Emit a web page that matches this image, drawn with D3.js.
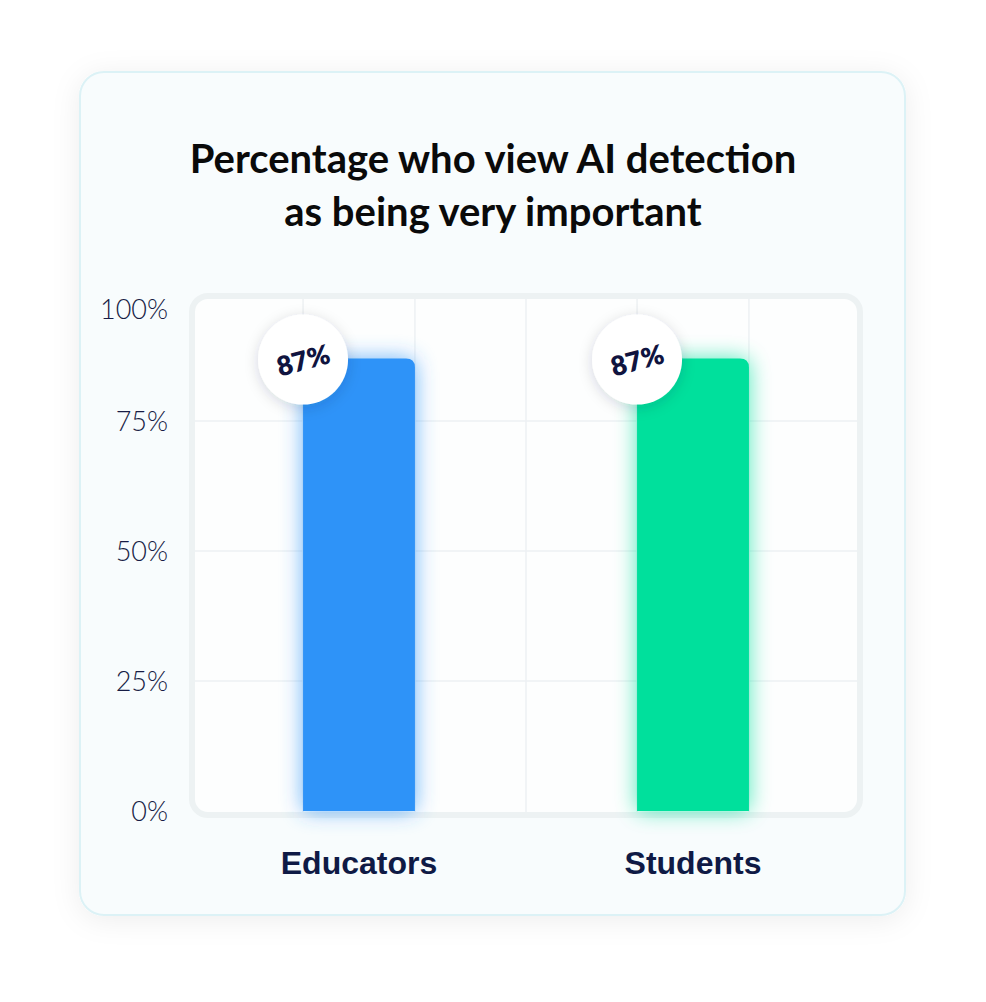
<!DOCTYPE html>
<html><head><meta charset="utf-8">
<script src="https://cdn.jsdelivr.net/npm/d3@7"></script>
<style>body{margin:0;background:#fff;}svg{display:block;}</style>
</head><body>
<svg id="c" width="986" height="1002"></svg>
<script>
const categories = ["Educators", "Students"];
const values = [87, 87];
const barColors = ["#2e93f8", "#04e09c"];
const tickValues = [0, 25, 50, 75, 100];
const tickLabels = ["0%", "25%", "50%", "75%", "100%"];
const titleLines = ["Percentage who view AI detection", "as being very important"];

const svg = d3.select("#c");
const defs = svg.append("defs");
const f1 = defs.append("filter").attr("id","cardShadow").attr("x","-20%").attr("y","-20%").attr("width","140%").attr("height","140%");
f1.append("feDropShadow").attr("dx",0).attr("dy",4).attr("stdDeviation",14).attr("flood-color","#000").attr("flood-opacity",0.07);
const f2 = defs.append("filter").attr("id","glow").attr("x","-50%").attr("y","-20%").attr("width","200%").attr("height","140%");
f2.append("feGaussianBlur").attr("in","SourceGraphic").attr("stdDeviation",11).attr("result","b");
f2.append("feComponentTransfer").attr("in","b").attr("result","b2").append("feFuncA").attr("type","linear").attr("slope",0.7);
const fm = f2.append("feMerge"); fm.append("feMergeNode").attr("in","b2"); fm.append("feMergeNode").attr("in","SourceGraphic");
const f3 = defs.append("filter").attr("id","circShadow").attr("x","-50%").attr("y","-50%").attr("width","200%").attr("height","200%");
f3.append("feDropShadow").attr("dx",0).attr("dy",3).attr("stdDeviation",7).attr("flood-color","#1a2040").attr("flood-opacity",0.16);

// card
svg.append("rect").attr("x",80).attr("y",72).attr("width",825).attr("height",843).attr("rx",24)
  .attr("fill","#f8fcfd").attr("stroke","#dcf2f6").attr("stroke-width",2).attr("filter","url(#cardShadow)");

// title
svg.append("text").attr("x",493).attr("y",173).attr("text-anchor","middle")
  .attr("font-family","Lato, 'Noto Sans', sans-serif").attr("font-weight",700).attr("font-size",40).attr("fill","#0a0a0a")
  .selectAll("tspan").data(titleLines).join("tspan").attr("x",493).attr("dy",(d,i)=>i?53:0).text(d=>d);

const left = 192, right = 860, top0 = 296, bottom0 = 815;
const x = d3.scaleBand().domain(categories).range([left, right]).paddingInner(0.665).paddingOuter(0.3325);
const y = d3.scaleLinear().domain([0,100]).range([811, 291]);

// plot frame
svg.append("rect").attr("x",left).attr("y",top0).attr("width",right-left).attr("height",bottom0-top0).attr("rx",16)
  .attr("fill","#fdfefe").attr("stroke","#edf2f3").attr("stroke-width",6);

// grid
const g = svg.append("g");
g.selectAll("line.h").data(tickValues.filter(v=>v>0&&v<100)).join("line")
  .attr("x1",left+3).attr("x2",right-3).attr("y1",d=>y(d)).attr("y2",d=>y(d))
  .attr("stroke","#edf1f3").attr("stroke-width",1.5);
const vlines = [];
categories.forEach(c=>{ vlines.push(x(c)); vlines.push(x(c)+x.bandwidth()); });
vlines.push((x(categories[0])+x.bandwidth()+x(categories[1]))/2);
g.selectAll("line.v").data(vlines).join("line")
  .attr("x1",d=>d).attr("x2",d=>d).attr("y1",top0+3).attr("y2",bottom0-3)
  .attr("stroke","#edf1f3").attr("stroke-width",1.5);

// y tick labels
svg.append("g").selectAll("text").data(tickValues).join("text")
  .attr("x",168).attr("y",d=>d===100? y(d)+21 : y(d)+3).attr("text-anchor","end").attr("dominant-baseline","middle")
  .attr("font-family","Lato, 'Noto Sans', sans-serif").attr("font-weight",300).attr("font-size",27).attr("fill","#171c45")
  .text((d,i)=>tickLabels[i]);

// bars
function topRounded(x0,y0,w,h,r){
  return `M${x0},${y0+h}V${y0+r}Q${x0},${y0} ${x0+r},${y0}H${x0+w-r}Q${x0+w},${y0} ${x0+w},${y0+r}V${y0+h}Z`;
}
svg.append("g").selectAll("path").data(categories).join("path")
  .attr("d",(c,i)=>topRounded(x(c), y(values[i]), x.bandwidth(), y(0)-y(values[i]), 9))
  .attr("fill",(c,i)=>barColors[i]).attr("filter","url(#glow)");

// bubbles
const bub = svg.append("g").selectAll("g").data(categories).join("g")
  .attr("transform",(c,i)=>`translate(${x(c)},${y(values[i])+1})`);
bub.append("circle").attr("r",45).attr("fill","#ffffff").attr("filter","url(#circShadow)");
bub.append("text").attr("text-anchor","middle").attr("dominant-baseline","central").attr("transform","rotate(-15)")
  .attr("font-family","Lato, 'Noto Sans', sans-serif").attr("font-weight",800).attr("font-size",27).attr("fill","#10143f")
  .text((c,i)=>values[i]+"%");

// x labels
svg.append("g").selectAll("text").data(categories).join("text")
  .attr("x",c=>x(c)+x.bandwidth()/2).attr("y",874).attr("text-anchor","middle")
  .attr("font-family","'Liberation Sans', Arial, sans-serif").attr("font-weight",700).attr("font-size",32).attr("fill","#0f1a45")
  .text(c=>c);
</script>
</body></html>
